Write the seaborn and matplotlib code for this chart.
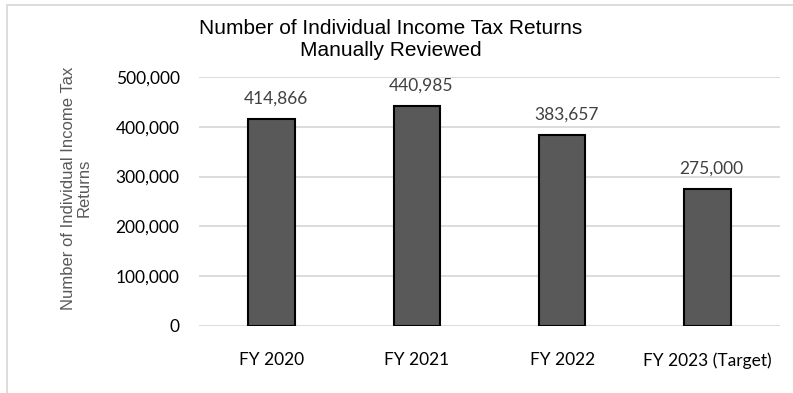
import matplotlib
matplotlib.use('Agg')
import matplotlib.pyplot as plt
import seaborn as sns
import pandas as pd
from matplotlib.patches import Rectangle
from matplotlib.ticker import FuncFormatter

years = ['FY 2020', 'FY 2021', 'FY 2022', 'FY 2023 (Target)']
returns = [414866, 440985, 383657, 275000]
value_labels = ['414,866', '440,985', '383,657', '275,000']
y_ticks = [0, 100000, 200000, 300000, 400000, 500000]

df = pd.DataFrame({'year': years, 'returns': returns})

sns.set_style('white')
plt.rcParams['font.family'] = ['Liberation Sans', 'DejaVu Sans']

fig = plt.figure(figsize=(7.93, 3.93), dpi=100)
ax = fig.add_axes([199/793, 1 - 326/393, 581/793, 249/393])

sns.barplot(data=df, x='year', y='returns', color='#595959', width=0.32,
            edgecolor='black', linewidth=1.5, saturation=1, ax=ax, zorder=3)

ax.set_ylim(0, 500000)
ax.set_yticks(y_ticks)
ax.yaxis.set_major_formatter(FuncFormatter(lambda v, p: f'{int(v):,}'))
ax.grid(axis='y', color='#d9d9d9', linewidth=1.3, zorder=0)
ax.set_axisbelow(True)
for s in ax.spines.values():
    s.set_visible(False)
ax.tick_params(axis='both', length=0, labelsize=12.5, colors='black')
ax.tick_params(axis='x', pad=19)
ax.tick_params(axis='y', pad=14)
for lab in ax.get_xticklabels() + ax.get_yticklabels():
    lab.set_family(['Lato', 'DejaVu Sans'])
ax.set_xlabel('')
ax.set_ylabel('')

for i, (v, t) in enumerate(zip(returns, value_labels)):
    ax.annotate(t, (i, v), xytext=(3, 9), textcoords='offset points',
                ha='center', va='bottom', fontsize=12.5, color='#404040',
                family=['Lato', 'DejaVu Sans'])

fig.text(391/793, 1 - 40/393, 'Number of Individual Income Tax Returns\nManually Reviewed',
         ha='center', va='center', fontsize=15, color='black', linespacing=1.2)
fig.text(76/793, 1 - 188/393, 'Number of Individual Income Tax\nReturns',
         ha='center', va='center', rotation=90, fontsize=12, color='#595959',
         linespacing=1.05)

fig.patches.append(Rectangle((7/793, -0.05), 1.2, 1 - 5/393 + 0.05,
                             transform=fig.transFigure, fill=False,
                             edgecolor='#d9d9d9', linewidth=1.3))

fig.savefig('out.png', dpi=100)
